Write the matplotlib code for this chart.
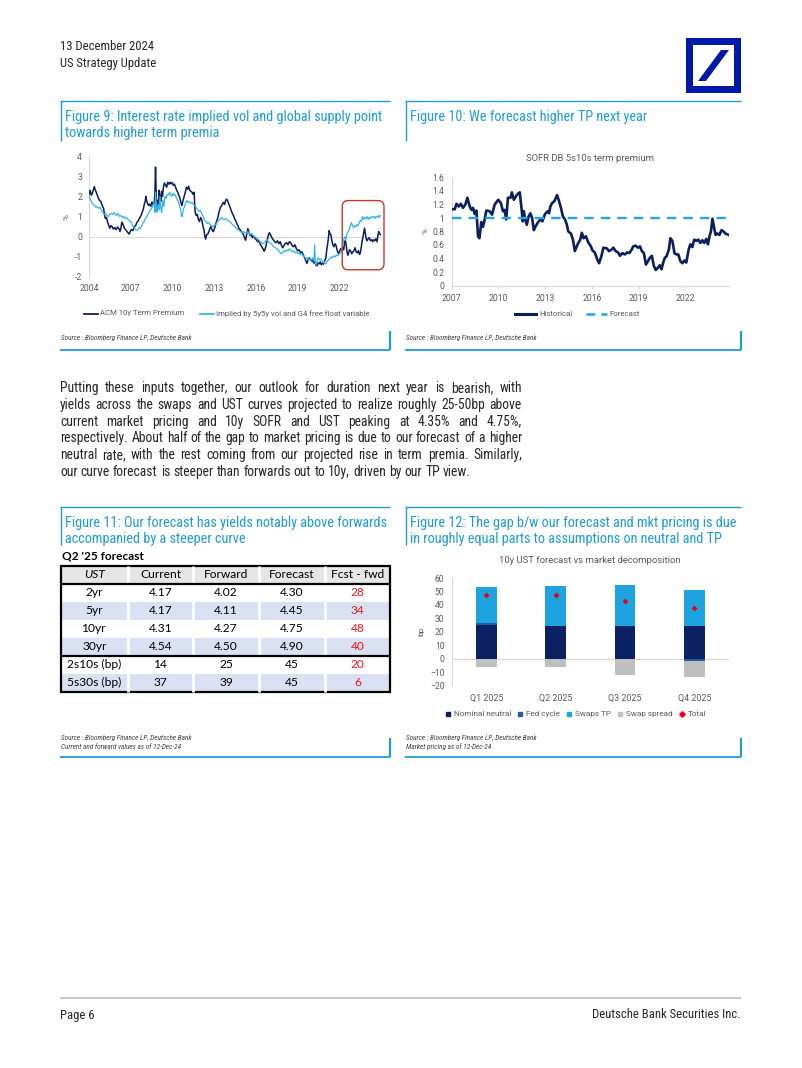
import matplotlib
matplotlib.use('Agg')
import matplotlib.pyplot as plt
from matplotlib import font_manager as fm
from matplotlib.font_manager import FontProperties
from matplotlib.patches import Rectangle, Polygon, FancyBboxPatch
from matplotlib.ticker import FuncFormatter
import numpy as np

# ------------------------------------------------------------------ data
# Figure 9: ACM 10y term premium vs implied
acm_years = [2004.00, 2004.08, 2004.16, 2004.24, 2004.32, 2004.38, 2004.46, 2004.55, 2004.65, 2004.75,
             2004.85, 2004.95, 2005.05, 2005.12, 2005.18, 2005.26, 2005.34, 2005.42, 2005.50, 2005.58,
             2005.66, 2005.75, 2005.85, 2005.95, 2006.05, 2006.15, 2006.23, 2006.30, 2006.36, 2006.45,
             2006.54, 2006.62, 2006.71, 2006.80, 2006.88, 2006.96, 2007.05, 2007.15, 2007.25, 2007.35,
             2007.45, 2007.55, 2007.65, 2007.74, 2007.82, 2007.90, 2007.97, 2008.04, 2008.08, 2008.14,
             2008.20, 2008.28, 2008.36, 2008.44, 2008.52, 2008.60, 2008.68, 2008.74, 2008.78, 2008.82,
             2008.86, 2008.92, 2008.98, 2009.04, 2009.10, 2009.16, 2009.22, 2009.28, 2009.35, 2009.42,
             2009.50, 2009.58, 2009.66, 2009.74, 2009.82, 2009.90, 2009.98, 2010.06, 2010.14, 2010.22,
             2010.30, 2010.38, 2010.46, 2010.54, 2010.62, 2010.68, 2010.76, 2010.84, 2010.92, 2011.00,
             2011.08, 2011.16, 2011.24, 2011.32, 2011.40, 2011.48, 2011.56, 2011.60, 2011.64, 2011.70,
             2011.78, 2011.86, 2011.94, 2012.02, 2012.10, 2012.18, 2012.26, 2012.32, 2012.38, 2012.46,
             2012.56, 2012.66, 2012.76, 2012.86, 2012.94, 2013.04, 2013.14, 2013.24, 2013.34, 2013.44,
             2013.54, 2013.64, 2013.74, 2013.82, 2013.90, 2013.98, 2014.06, 2014.14, 2014.22, 2014.30,
             2014.38, 2014.46, 2014.54, 2014.62, 2014.70, 2014.78, 2014.86, 2014.94, 2015.02, 2015.10,
             2015.18, 2015.26, 2015.34, 2015.42, 2015.50, 2015.58, 2015.66, 2015.74, 2015.82, 2015.92,
             2016.02, 2016.12, 2016.22, 2016.32, 2016.42, 2016.50, 2016.58, 2016.64, 2016.72, 2016.80,
             2016.88, 2016.96, 2017.04, 2017.14, 2017.24, 2017.34, 2017.44, 2017.54, 2017.64, 2017.74,
             2017.84, 2017.92, 2018.00, 2018.10, 2018.20, 2018.30, 2018.40, 2018.50, 2018.60, 2018.70,
             2018.80, 2018.90, 2019.00, 2019.10, 2019.20, 2019.30, 2019.40, 2019.50, 2019.58, 2019.66,
             2019.74, 2019.82, 2019.90, 2019.98, 2020.06, 2020.14, 2020.22, 2020.30, 2020.38, 2020.46,
             2020.54, 2020.62, 2020.70, 2020.78, 2020.86, 2020.94, 2021.02, 2021.08, 2021.14, 2021.20,
             2021.26, 2021.32, 2021.38, 2021.44, 2021.52, 2021.60, 2021.68, 2021.76, 2021.84, 2021.92,
             2022.00, 2022.08, 2022.16, 2022.24, 2022.30, 2022.36, 2022.42, 2022.48, 2022.54, 2022.60,
             2022.66, 2022.72, 2022.80, 2022.88, 2022.96, 2023.04, 2023.12, 2023.20, 2023.28, 2023.36,
             2023.44, 2023.50, 2023.56, 2023.62, 2023.68, 2023.74, 2023.80, 2023.86, 2023.92, 2023.98,
             2024.06, 2024.14, 2024.22, 2024.30, 2024.38, 2024.46, 2024.54, 2024.62, 2024.70, 2024.76,
             2024.82, 2024.88, 2024.94]
acm_vals = [2.10, 2.30, 2.05, 2.15, 2.35, 2.48, 2.30, 2.15, 1.95, 1.80,
            1.75, 1.55, 1.40, 1.05, 0.90, 0.95, 0.72, 0.55, 0.42, 0.55,
            0.50, 0.38, 0.45, 0.35, 0.48, 0.40, 0.25, 0.45, 0.72, 0.60,
            0.42, 0.35, 0.28, 0.20, 0.13, 0.25, 0.35, 0.30, 0.48, 0.55,
            0.72, 0.80, 0.95, 1.05, 1.20, 1.35, 1.60, 1.75, 2.00, 1.80,
            1.65, 1.55, 1.62, 1.50, 1.72, 1.60, 1.55, 2.20, 3.45, 2.30,
            1.30, 1.80, 1.40, 2.30, 1.90, 1.75, 2.25, 2.00, 2.45, 2.66,
            2.55, 2.45, 2.70, 2.60, 2.70, 2.62, 2.68, 2.55, 2.60, 2.45,
            2.30, 2.20, 2.05, 1.90, 1.65, 1.55, 1.80, 2.00, 2.20, 2.45,
            2.35, 2.50, 2.30, 2.25, 2.20, 2.10, 2.20, 1.50, 1.20, 1.05,
            1.10, 0.85, 0.75, 0.95, 0.85, 0.55, 0.35, 0.05, -0.12, 0.10,
            0.15, 0.35, 0.50, 0.30, 0.25, 0.45, 0.70, 0.90, 1.20, 1.45,
            1.55, 1.70, 1.60, 1.80, 1.86, 1.75, 1.60, 1.45, 1.30, 1.15,
            1.05, 0.90, 0.80, 0.65, 0.55, 0.40, 0.35, 0.25, 0.20, 0.10,
            -0.05, -0.18, 0.15, 0.40, 0.20, 0.05, 0.10, -0.05, 0.05, -0.08,
            -0.15, -0.25, -0.20, -0.40, -0.50, -0.60, -0.72, -0.65, -0.45, -0.20,
            0.05, 0.20, 0.10, -0.05, -0.15, -0.25, -0.30, -0.20, -0.35, -0.25,
            -0.45, -0.55, -0.45, -0.35, -0.30, -0.40, -0.25, -0.30, -0.45, -0.50,
            -0.40, -0.60, -0.70, -0.65, -0.80, -0.75, -0.90, -1.05, -1.20, -1.33,
            -1.15, -1.05, -1.10, -1.20, -1.15, -1.30, -1.25, -1.40, -1.45, -1.30,
            -1.35, -1.25, -1.40, -1.30, -1.36, -1.20, -1.05, -0.70, -0.40, -0.10,
            0.30, 0.15, 0.10, -0.15, -0.40, -0.50, -0.35, -0.45, -0.70, -0.83,
            -0.75, -0.60, -0.70, -0.55, -0.65, -0.35, -0.20, -0.40, -0.75, -0.92,
            -0.80, -0.65, -0.70, -0.85, -0.75, -0.70, -0.55, -0.75, -0.80, -0.70,
            -0.88, -0.80, -0.55, -0.25, -0.05, 0.20, 0.42, 0.15, -0.10, -0.20,
            -0.10, -0.05, -0.20, -0.15, -0.25, -0.15, -0.20, -0.10, -0.25, 0.05,
            0.25, 0.15, 0.10]

implied_years = [2004.00, 2004.10, 2004.20, 2004.30, 2004.40, 2004.50, 2004.60, 2004.70, 2004.80, 2004.90,
                 2005.00, 2005.10, 2005.20, 2005.30, 2005.40, 2005.50, 2005.60, 2005.70, 2005.80, 2005.90,
                 2006.00, 2006.10, 2006.20, 2006.30, 2006.40, 2006.50, 2006.60, 2006.70, 2006.80, 2006.90,
                 2007.00, 2007.10, 2007.20, 2007.30, 2007.40, 2007.50, 2007.60, 2007.70, 2007.80, 2007.90,
                 2008.00, 2008.10, 2008.20, 2008.30, 2008.40, 2008.50, 2008.60, 2008.68, 2008.74, 2008.78,
                 2008.84, 2008.90, 2008.96, 2009.04, 2009.10, 2009.16, 2009.22, 2009.30, 2009.38, 2009.46,
                 2009.54, 2009.62, 2009.70, 2009.78, 2009.86, 2009.94, 2010.02, 2010.10, 2010.18, 2010.26,
                 2010.34, 2010.42, 2010.50, 2010.58, 2010.64, 2010.70, 2010.78, 2010.86, 2010.94, 2011.02,
                 2011.10, 2011.20, 2011.30, 2011.40, 2011.50, 2011.60, 2011.70, 2011.80, 2011.90, 2012.00,
                 2012.10, 2012.20, 2012.30, 2012.40, 2012.50, 2012.60, 2012.70, 2012.80, 2012.90, 2013.00,
                 2013.10, 2013.20, 2013.30, 2013.40, 2013.50, 2013.60, 2013.70, 2013.80, 2013.90, 2014.00,
                 2014.10, 2014.20, 2014.30, 2014.40, 2014.50, 2014.60, 2014.70, 2014.80, 2014.90, 2015.00,
                 2015.10, 2015.20, 2015.30, 2015.40, 2015.50, 2015.60, 2015.70, 2015.80, 2015.90, 2016.00,
                 2016.10, 2016.20, 2016.30, 2016.40, 2016.50, 2016.60, 2016.70, 2016.80, 2016.90, 2017.00,
                 2017.10, 2017.20, 2017.30, 2017.40, 2017.50, 2017.60, 2017.70, 2017.80, 2017.90, 2018.00,
                 2018.10, 2018.20, 2018.30, 2018.40, 2018.50, 2018.60, 2018.70, 2018.80, 2018.90, 2019.00,
                 2019.10, 2019.20, 2019.30, 2019.40, 2019.50, 2019.60, 2019.70, 2019.80, 2019.90, 2020.00,
                 2020.08, 2020.16, 2020.22, 2020.26, 2020.34, 2020.42, 2020.50, 2020.58, 2020.66, 2020.74,
                 2020.82, 2020.90, 2020.98, 2021.06, 2021.14, 2021.22, 2021.30, 2021.40, 2021.50, 2021.60,
                 2021.70, 2021.80, 2021.90, 2022.00, 2022.10, 2022.18, 2022.26, 2022.32, 2022.38, 2022.46,
                 2022.54, 2022.62, 2022.70, 2022.78, 2022.86, 2022.94, 2023.02, 2023.10, 2023.18, 2023.26,
                 2023.34, 2023.42, 2023.50, 2023.58, 2023.66, 2023.74, 2023.82, 2023.90, 2023.98, 2024.06,
                 2024.14, 2024.22, 2024.30, 2024.38, 2024.46, 2024.54, 2024.62, 2024.70, 2024.78, 2024.86,
                 2024.94]
implied_vals = [2.00, 1.85, 1.70, 1.60, 1.55, 1.45, 1.50, 1.40, 1.45, 1.30,
                1.20, 1.10, 1.15, 1.05, 1.00, 1.10, 1.15, 1.10, 1.20, 1.10,
                1.05, 1.15, 1.00, 1.05, 0.95, 1.00, 0.90, 0.95, 0.85, 0.80,
                0.75, 0.60, 0.50, 0.40, 0.30, 0.35, 0.45, 0.40, 0.55, 0.70,
                0.80, 0.95, 1.05, 1.20, 1.30, 1.40, 1.55, 1.65, 1.20, 2.20,
                1.50, 1.20, 1.60, 1.30, 2.00, 1.40, 1.20, 1.80, 1.50, 2.00,
                1.90, 2.10, 2.05, 2.20, 2.10, 2.00, 2.15, 2.05, 2.10, 1.95,
                1.85, 1.75, 1.55, 1.35, 1.05, 1.00, 1.35, 1.50, 1.65, 1.80,
                1.70, 1.75, 1.65, 1.70, 1.60, 1.55, 1.45, 1.35, 1.25, 1.30,
                1.15, 1.00, 0.85, 0.75, 0.65, 0.70, 0.60, 0.55, 0.50, 0.55,
                0.60, 0.70, 0.80, 0.85, 0.95, 0.90, 0.85, 0.90, 0.85, 0.80,
                0.75, 0.70, 0.60, 0.55, 0.50, 0.40, 0.35, 0.30, 0.25, 0.20,
                0.25, 0.20, 0.15, 0.25, 0.20, 0.10, 0.15, 0.05, 0.00, -0.05,
                -0.10, -0.15, -0.25, -0.30, -0.35, -0.30, -0.20, -0.15, -0.25, -0.30,
                -0.35, -0.45, -0.50, -0.55, -0.60, -0.65, -0.75, -0.85, -0.80, -0.70,
                -0.75, -0.65, -0.70, -0.60, -0.65, -0.75, -0.70, -0.80, -0.75, -0.85,
                -0.80, -0.90, -0.85, -0.95, -1.00, -1.10, -1.05, -1.15, -1.10, -1.15,
                -1.05, -1.20, -0.40, -1.30, -1.40, -1.10, -1.05, -1.15, -1.10, -1.20,
                -1.30, -1.25, -1.35, -1.30, -1.20, -1.15, -1.10, -1.00, -1.05, -0.95,
                -1.00, -0.90, -0.95, -0.85, -0.80, -0.60, -0.30, -0.10, 0.00, -0.15,
                0.15, 0.25, 0.35, 0.55, 0.70, 0.55, 0.45, 0.55, 0.50, 0.60,
                0.55, 0.70, 0.80, 0.75, 1.00, 0.85, 0.95, 0.90, 1.00, 0.85,
                0.95, 0.90, 1.00, 0.95, 1.00, 0.90, 1.00, 0.95, 1.05, 0.95,
                1.05]

fig9_xticks = [2004, 2007, 2010, 2013, 2016, 2019, 2022]
fig9_yticks = [-2, -1, 0, 1, 2, 3, 4]
fig9_highlight = (2022.2, 2025.2, -1.64, 1.79)   # x0, x1, y0, y1 of red box

# Figure 10: SOFR DB 5s10s term premium
sofr_years = [2007.00, 2007.21, 2007.32, 2007.47, 2007.60, 2007.74, 2007.89, 2008.02, 2008.17, 2008.28,
              2008.38, 2008.49, 2008.60, 2008.70, 2008.79, 2008.91, 2009.02, 2009.13, 2009.23, 2009.45,
              2009.60, 2009.77, 2010.00, 2010.17, 2010.30, 2010.40, 2010.51, 2010.62, 2010.79, 2010.87,
              2011.00, 2011.13, 2011.26, 2011.38, 2011.51, 2011.57, 2011.64, 2011.72, 2011.83, 2011.94,
              2012.06, 2012.17, 2012.28, 2012.38, 2012.53, 2012.70, 2012.83, 2013.00, 2013.17, 2013.26,
              2013.34, 2013.45, 2013.60, 2013.77, 2013.87, 2014.02, 2014.15, 2014.28, 2014.40, 2014.49,
              2014.66, 2014.79, 2014.91, 2015.09, 2015.26, 2015.36, 2015.47, 2015.62, 2015.77, 2015.94,
              2016.04, 2016.19, 2016.36, 2016.47, 2016.62, 2016.74, 2016.96, 2017.10, 2017.26, 2017.38,
              2017.53, 2017.68, 2017.81, 2017.96, 2018.11, 2018.28, 2018.40, 2018.53, 2018.66, 2018.81,
              2018.96, 2019.09, 2019.21, 2019.34, 2019.47, 2019.60, 2019.72, 2019.85, 2019.98, 2020.10,
              2020.23, 2020.36, 2020.47, 2020.57, 2020.68, 2020.79, 2020.94, 2021.04, 2021.17, 2021.30,
              2021.43, 2021.55, 2021.68, 2021.81, 2021.94, 2022.06, 2022.21, 2022.32, 2022.45, 2022.57,
              2022.70, 2022.83, 2022.96, 2023.09, 2023.21, 2023.34, 2023.45, 2023.55, 2023.64, 2023.74,
              2023.85, 2023.94, 2024.06, 2024.19, 2024.32, 2024.45, 2024.57, 2024.77]
sofr_vals = [1.13, 1.13, 1.21, 1.17, 1.21, 1.15, 1.20, 1.30, 1.17, 1.12,
             1.15, 1.06, 1.11, 0.73, 0.70, 0.94, 0.87, 0.98, 1.11, 1.10,
             1.05, 1.20, 1.27, 1.22, 1.10, 1.12, 0.98, 1.30, 1.30, 1.38,
             1.27, 1.32, 1.36, 1.38, 1.10, 0.95, 1.10, 0.98, 0.90, 1.02,
             1.07, 1.00, 0.82, 0.87, 0.93, 0.98, 0.95, 1.06, 1.10, 1.07,
             1.17, 1.22, 1.25, 1.34, 1.27, 1.15, 1.02, 0.98, 0.90, 0.80,
             0.77, 0.68, 0.51, 0.61, 0.68, 0.78, 0.70, 0.73, 0.64, 0.58,
             0.52, 0.49, 0.38, 0.33, 0.44, 0.56, 0.55, 0.51, 0.53, 0.56,
             0.51, 0.49, 0.44, 0.48, 0.46, 0.49, 0.48, 0.52, 0.58, 0.59,
             0.56, 0.58, 0.51, 0.48, 0.31, 0.36, 0.41, 0.44, 0.29, 0.23,
             0.26, 0.30, 0.24, 0.33, 0.41, 0.43, 0.53, 0.70, 0.66, 0.48,
             0.46, 0.46, 0.36, 0.33, 0.37, 0.34, 0.53, 0.61, 0.57, 0.68,
             0.66, 0.68, 0.63, 0.67, 0.63, 0.69, 0.61, 0.73, 0.80, 0.99,
             0.85, 0.75, 0.77, 0.75, 0.82, 0.80, 0.77, 0.75]
forecast_level = 1.0
fig10_xticks = [2007, 2010, 2013, 2016, 2019, 2022]
fig10_yticks = [0, 0.2, 0.4, 0.6, 0.8, 1.0, 1.2, 1.4, 1.6]

# Figure 11: table
table_header = ['UST', 'Current', 'Forward', 'Forecast', 'Fcst - fwd']
table_rows = ['2yr', '5yr', '10yr', '30yr', '2s10s (bp)', '5s30s (bp)']
tbl_current = [4.17, 4.17, 4.31, 4.54, 14, 37]
tbl_forward = [4.02, 4.11, 4.27, 4.50, 25, 39]
tbl_forecast = [4.30, 4.45, 4.75, 4.90, 45, 45]
tbl_fcst_fwd = [28, 34, 48, 40, 20, 6]

# Figure 12: decomposition
quarters = ['Q1 2025', 'Q2 2025', 'Q3 2025', 'Q4 2025']
nominal_neutral = [25.0, 24.5, 24.0, 24.0]
fed_cycle = [1.5, 0.0, 0.0, -1.5]
swaps_tp = [27.0, 29.5, 31.0, 27.0]
swap_spread = [-6.0, -6.5, -12.5, -12.5]
total = [47.5, 47.5, 43.0, 37.5]
fig12_yticks = [-20, -10, 0, 10, 20, 30, 40, 50, 60]

# ------------------------------------------------------------------ fonts
available = {f.name for f in fm.fontManager.ttflist}
def pick(*names):
    for n in names:
        if n in available:
            return n
    return 'DejaVu Sans'
NARROW = pick('Liberation Sans Narrow', 'Roboto Condensed', 'Liberation Sans')
CHART = pick('Roboto', 'Liberation Sans', 'DejaVu Sans')
TABLE = pick('Lato', 'Open Sans', 'Liberation Sans')
plt.rcParams['font.family'] = [CHART, 'DejaVu Sans']

# ------------------------------------------------------------------ colours
DB_BLUE = '#0018A8'
TITLE_BLUE = '#1F9BD7'
TXT = '#262626'
GRAY_TXT = '#595959'
AXIS_GRAY = '#D9D9D9'
DARK = '#0B1F5C'
LIGHT = '#35B4E6'
FCST = '#1EA7E1'
C_NN = '#0C2161'
C_FED = '#1F5FAA'
C_TP = '#1DA4E0'
C_SS = '#BFBFBF'
C_TOT = '#E2001A'
RED_TXT = '#E8141C'

# ------------------------------------------------------------------ page
W, H = 802, 1068
fig = plt.figure(figsize=(W / 100, H / 100), dpi=100)
ax0 = fig.add_axes([0, 0, 1, 1])
ax0.set_xlim(0, W)
ax0.set_ylim(H, 0)
ax0.axis('off')
renderer = fig.canvas.get_renderer()


def tw(s, family, size, weight='normal', style='normal'):
    prop = FontProperties(family=family, size=size, weight=weight, style=style)
    w, h, d = renderer.get_text_width_height_descent(s, prop, ismath=False)
    return w


def fit(s, family, target, weight='normal', style='normal'):
    return 10.0 * target / tw(s, family, 10.0, weight, style)


def px_axes(l, t, r, b):
    return fig.add_axes([l / W, 1 - b / H, (r - l) / W, (b - t) / H])


def hline(x0, x1, y, color, lw):
    ax0.plot([x0, x1], [y, y], color=color, lw=lw, solid_capstyle='butt')


def vline(x, y0, y1, color, lw):
    ax0.plot([x, x], [y0, y1], color=color, lw=lw, solid_capstyle='butt')


# header
hdr_fs = fit('13 December 2024', NARROW, 93)
ax0.text(60, 46, '13 December 2024', family=NARROW, fontsize=hdr_fs, color=TXT, va='center')
ax0.text(60, 63, 'US Strategy Update', family=NARROW, fontsize=hdr_fs, color=TXT, va='center')

# logo
ax0.add_patch(Rectangle((686, 38), 55, 55, facecolor=DB_BLUE, edgecolor='none'))
ax0.add_patch(Rectangle((693, 45), 41, 41, facecolor='white', edgecolor='none'))
ax0.add_patch(Polygon([(698, 81), (706, 81), (729, 50), (721, 50)], closed=True,
                      facecolor=DB_BLUE, edgecolor='none'))

# figure title boxes
title_fs = fit('Figure 9: Interest rate implied vol and global supply point', NARROW, 316)
for (x0, x1, ytop, ybot, lines) in [
        (60, 390, 101, 141, ['Figure 9: Interest rate implied vol and global supply point',
                             'towards higher term premia']),
        (405, 741, 101, 141, ['Figure 10: We forecast higher TP next year']),
        (60, 390, 507, 545, ['Figure 11: Our forecast has yields notably above forwards',
                             'accompanied by a steeper curve']),
        (405, 741, 507, 545, ['Figure 12: The gap b/w our forecast and mkt pricing is due',
                              'in roughly equal parts to assumptions on neutral and TP'])]:
    hline(x0, x1, ytop, TITLE_BLUE, 1.0)
    vline(x0 + 0.5, ytop, ybot, TITLE_BLUE, 1.0)
    for i, ln in enumerate(lines):
        ax0.text(x0 + 5, ytop + 16 + 16 * i, ln, family=NARROW, fontsize=title_fs,
                 color=TITLE_BLUE, va='center')

# bottom box lines & sources
src_fs = 5.2
for (x0, x1, ysrc, ybot, srcs) in [
        (60, 390, 338, 349.5, ['Source : Bloomberg Finance LP, Deutsche Bank']),
        (405, 741, 338, 349.5, ['Source : Bloomberg Finance LP, Deutsche Bank']),
        (60, 390, 738, 756.5, ['Source : Bloomberg Finance LP, Deutsche Bank',
                               'Current and forward values as of 12-Dec-24']),
        (405, 741, 738, 756.5, ['Source : Bloomberg Finance LP, Deutsche Bank',
                                'Market pricing as of 12-Dec-24'])]:
    hline(x0, x1, ybot, TITLE_BLUE, 1.3)
    vline(x1 - 0.5, ybot - 19, ybot, TITLE_BLUE, 1.6)
    for i, s in enumerate(srcs):
        ax0.text(x0 + 1, ysrc + 9 * i, s, family=NARROW, fontsize=src_fs, style='italic',
                 color='#404040', va='center')

# paragraph (justified)
para = ['Putting these inputs together, our outlook for duration next year is bearish, with',
        'yields across the swaps and UST curves projected to realize roughly 25-50bp above',
        'current market pricing and 10y SOFR and UST peaking at 4.35% and 4.75%,',
        'respectively. About half of the gap to market pricing is due to our forecast of a higher',
        'neutral rate, with the rest coming from our projected rise in term premia. Similarly,',
        'our curve forecast is steeper than forwards out to 10y, driven by our TP view.']
PX0, PX1 = 60, 522
widest = max(tw(l, NARROW, 10) for l in para)
para_fs = min(10.0 * (PX1 - PX0) * 0.985 / widest, 11.4)
for i, ln in enumerate(para):
    yb = 392 + 16.8 * i
    words = ln.split()
    ws = [tw(w, NARROW, para_fs) for w in words]
    if i == len(para) - 1:
        gap = tw('a b', NARROW, para_fs) - tw('ab', NARROW, para_fs)
    else:
        gap = (PX1 - PX0 - sum(ws)) / (len(words) - 1)
    x = PX0
    for w, wd in zip(words, ws):
        ax0.text(x, yb, w, family=NARROW, fontsize=para_fs, color=TXT, va='baseline')
        x += wd + gap

# footer
hline(60, 741, 998, '#BFBFBF', 1.2)
foot_fs = fit('Deutsche Bank Securities Inc.', NARROW, 147)
ax0.text(60, 1015, 'Page 6', family=NARROW, fontsize=foot_fs, color=TXT, va='center')
ax0.text(741, 1015, 'Deutsche Bank Securities Inc.', family=NARROW, fontsize=foot_fs,
         color=TXT, va='center', ha='right')


# generic legend drawer in page coords
def draw_legend(items, x_start, x_end, y, fs, hlen, hpad):
    widths = [tw(lbl, CHART, fs) for (_, _, lbl) in items]
    used = sum(hlen + hpad + w for w in widths)
    gap = (x_end - x_start - used) / max(len(items) - 1, 1)
    x = x_start
    for (kind, color, lbl), w in zip(items, widths):
        if kind == 'line':
            ax0.plot([x, x + hlen], [y, y], color=color, lw=1.3)
        elif kind == 'thick':
            ax0.plot([x, x + hlen], [y, y], color=color, lw=2.2)
        elif kind == 'dash':
            ax0.plot([x, x + hlen], [y, y], color=color, lw=1.8, dashes=(3.5, 2.5))
        elif kind == 'square':
            ax0.plot([x + hlen / 2], [y], marker='s', ms=3.4, color=color, lw=0)
        elif kind == 'diamond':
            ax0.plot([x + hlen / 2], [y], marker='D', ms=2.8, color=color, lw=0)
        ax0.text(x + hlen + hpad, y, lbl, fontsize=fs, color=GRAY_TXT, va='center', family=CHART)
        x += hlen + hpad + w + gap


def style_axis(ax, fs=6.2):
    for s in ['top', 'right', 'bottom']:
        ax.spines[s].set_visible(False)
    ax.spines['left'].set_color(AXIS_GRAY)
    ax.spines['left'].set_linewidth(0.8)
    ax.tick_params(axis='both', labelsize=fs, labelcolor=GRAY_TXT, length=0)
    ax.set_facecolor('none')


fmt_g = FuncFormatter(lambda v, p: f'{v:g}')

# ------------------------------------------------------------------ Figure 9
ax9 = px_axes(89, 156, 384, 277)
style_axis(ax9)
ax9.axhline(0, color=AXIS_GRAY, lw=0.8, zorder=1)
ax9.plot(acm_years, acm_vals, color=DARK, lw=1.1, zorder=3)
ax9.plot(implied_years, implied_vals, color=LIGHT, lw=0.9, zorder=4)
ax9.set_xlim(2004, 2025.2)
ax9.set_ylim(-2, 4)
ax9.set_xticks(fig9_xticks)
ax9.set_yticks(fig9_yticks)
ax9.yaxis.set_major_formatter(fmt_g)
ax9.tick_params(axis='x', pad=5)
ax9.tick_params(axis='y', pad=5)
ax9.set_ylabel('%', fontsize=6, color=GRAY_TXT, labelpad=4)
hx0, hx1, hy0, hy1 = fig9_highlight
p0 = ax0.transData.inverted().transform(ax9.transData.transform((hx0, hy1)))
p1 = ax0.transData.inverted().transform(ax9.transData.transform((hx1, hy0)))
box = FancyBboxPatch((p0[0], p0[1]), p1[0] - p0[0], p1[1] - p0[1],
                     boxstyle='round,pad=0,rounding_size=6', facecolor='none',
                     edgecolor='#C0392B', lw=1.0, transform=ax0.transData, clip_on=False,
                     zorder=10)
ax9.add_artist(box)
draw_legend([('line', DARK, 'ACM 10y Term Premium'),
             ('line', LIGHT, 'Implied by 5y5y vol and G4 free float variable')],
            84, 369, 313.5, 5.6, 14, 2)

# ------------------------------------------------------------------ Figure 10
ax10 = px_axes(451.5, 177.5, 729, 285.5)
style_axis(ax10)
ax10.spines['bottom'].set_visible(True)
ax10.spines['bottom'].set_color(AXIS_GRAY)
ax10.spines['bottom'].set_linewidth(0.8)
ax10.plot(sofr_years, sofr_vals, color=DARK, lw=1.9, zorder=3)
ax10.plot([sofr_years[0], sofr_years[-1]], [forecast_level, forecast_level], color=FCST,
          lw=1.7, dashes=(4, 3), zorder=4)
ax10.set_xlim(2007, 2024.8)
ax10.set_ylim(0, 1.6)
ax10.set_xticks(fig10_xticks)
ax10.set_yticks(fig10_yticks)
ax10.yaxis.set_major_formatter(fmt_g)
ax10.tick_params(axis='x', length=2, color=AXIS_GRAY, pad=4)
ax10.tick_params(axis='y', pad=5)
ax10.set_ylabel('%', fontsize=6, color=GRAY_TXT, labelpad=3)
ax10.set_title('SOFR DB 5s10s term premium', fontsize=6.8, color=GRAY_TXT, pad=12)
draw_legend([('thick', DARK, 'Historical'), ('dash', FCST, 'Forecast')],
            515, 640, 313.5, 5.6, 21, 3)

# ------------------------------------------------------------------ Figure 11 table
tbl_fs = fit('Current', TABLE, 41)
ax0.text(62, 556, "Q2 '25 forecast", family=TABLE, fontsize=fit("Q2 '25 forecast", TABLE, 82, 'bold'),
         weight='bold', color='black', va='center')
col_x = [61, 128, 193, 259, 325, 390]
row_y = [566, 584, 602, 620, 638, 655.5, 673.5, 692]
row_fill = ['white', '#D9E1F2', 'white', '#D9E1F2', 'white', '#D9E1F2']
ax0.add_patch(Rectangle((col_x[0], row_y[0]), col_x[-1] - col_x[0], row_y[1] - row_y[0],
                        facecolor='#E7E6E6', edgecolor='none'))
for r in range(len(table_rows)):
    ax0.add_patch(Rectangle((col_x[0], row_y[r + 1]), col_x[-1] - col_x[0],
                            row_y[r + 2] - row_y[r + 1], facecolor=row_fill[r], edgecolor='none'))
for cx in col_x[1:-1]:
    vline(cx, row_y[0], row_y[-1], 'white', 2.0)
# black borders
ax0.add_patch(Rectangle((col_x[0], row_y[0]), col_x[-1] - col_x[0], row_y[-1] - row_y[0],
                        facecolor='none', edgecolor='black', lw=1.6))
hline(col_x[0], col_x[-1], row_y[1], 'black', 1.6)
hline(col_x[0], col_x[-1], row_y[5], 'black', 1.6)
# header text
for c, lbl in enumerate(table_header):
    cx = (col_x[c] + col_x[c + 1]) / 2
    ax0.text(cx, (row_y[0] + row_y[1]) / 2, lbl, family=TABLE, fontsize=tbl_fs,
             style='italic' if c == 0 else 'normal', color='black', ha='center', va='center')
for r, name in enumerate(table_rows):
    cy = (row_y[r + 1] + row_y[r + 2]) / 2
    is_bp = 'bp' in name
    vals = [name,
            f'{tbl_current[r]:.0f}' if is_bp else f'{tbl_current[r]:.2f}',
            f'{tbl_forward[r]:.0f}' if is_bp else f'{tbl_forward[r]:.2f}',
            f'{tbl_forecast[r]:.0f}' if is_bp else f'{tbl_forecast[r]:.2f}',
            f'{tbl_fcst_fwd[r]:.0f}']
    for c, v in enumerate(vals):
        cx = (col_x[c] + col_x[c + 1]) / 2
        ax0.text(cx, cy, v, family=TABLE, fontsize=tbl_fs, ha='center', va='center',
                 color=RED_TXT if c == 4 else 'black')

# ------------------------------------------------------------------ Figure 12
ax12 = px_axes(451.5, 578, 729, 685.5)
style_axis(ax12)
ax12.axhline(0, color=AXIS_GRAY, lw=0.8, zorder=1)
xq = np.arange(len(quarters))
pos_base = np.zeros(len(quarters))
neg_base = np.zeros(len(quarters))
for vals, color in [(nominal_neutral, C_NN), (fed_cycle, C_FED), (swaps_tp, C_TP), (swap_spread, C_SS)]:
    v = np.array(vals, dtype=float)
    bottoms = np.where(v >= 0, pos_base, neg_base)
    ax12.bar(xq, v, 0.30, bottom=bottoms, color=color, zorder=2, linewidth=0)
    pos_base = pos_base + np.where(v > 0, v, 0)
    neg_base = neg_base + np.where(v < 0, v, 0)
ax12.scatter(xq, total, marker='D', s=9, color=C_TOT, zorder=5, linewidths=0)
ax12.set_xlim(-0.5, len(quarters) - 0.5)
ax12.set_ylim(-20, 60)
ax12.set_yticks(fig12_yticks)
ax12.set_xticks(xq)
ax12.set_xticklabels(quarters)
ax12.tick_params(axis='x', pad=6, labelsize=6.4)
ax12.tick_params(axis='y', pad=5)
ax12.set_ylabel('bp', fontsize=6, color=GRAY_TXT, labelpad=4)
ax12.set_title('10y UST forecast vs market decomposition', fontsize=6.8, color=GRAY_TXT, pad=11)
draw_legend([('square', C_NN, 'Nominal neutral'), ('square', C_FED, 'Fed cycle'),
             ('square', C_TP, 'Swaps TP'), ('square', C_SS, 'Swap spread'),
             ('diamond', C_TOT, 'Total')],
            446, 706, 714, 5.9, 4, 3.5)

fig.savefig('out.png', dpi=100)
